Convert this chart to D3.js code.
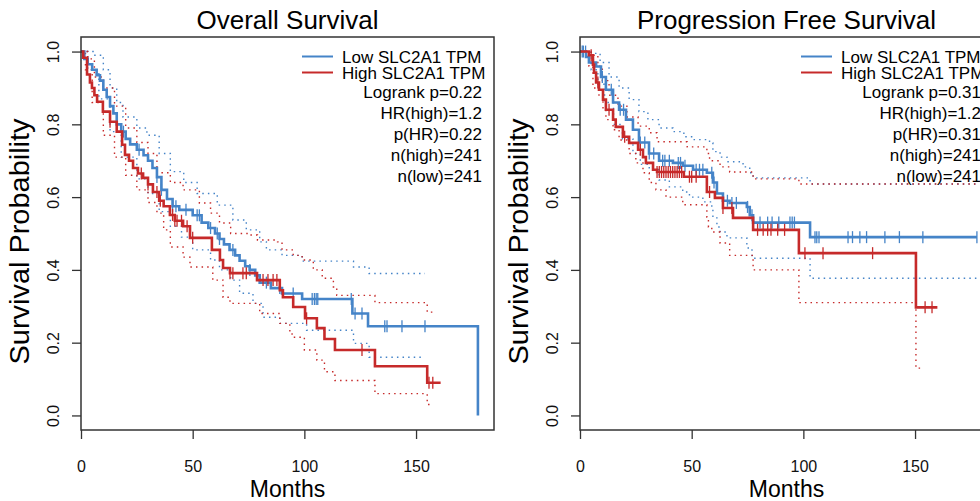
<!DOCTYPE html>
<html>
<head>
<meta charset="utf-8">
<script src="https://cdn.jsdelivr.net/npm/d3@7"></script>
<style>
  body { margin: 0; background: #fff; }
  svg { display: block; font-family: "Liberation Sans", Arial, Helvetica, sans-serif; }
</style>
</head>
<body>
<div id="chart"></div>
<script>
// axis ticks
const monthTicks = [0, 50, 100, 150];
const probTicks = [0, 0.2, 0.4, 0.6, 0.8, 1.0];

// ---- Overall survival: [month, survival after step]
const osLow = [[0,1],[1.5,0.98],[3,0.965],[5,0.95],[7,0.935],[8.5,0.92],[10,0.895],[11.5,0.875],[13,0.85],[14.5,0.83],[16,0.80],[18,0.78],[20,0.76],[22,0.745],[25,0.73],[28,0.715],[30,0.70],[32,0.68],[34,0.655],[36,0.62],[38.5,0.595],[41,0.575],[44,0.565],[50,0.55],[54,0.53],[57,0.515],[60,0.50],[62,0.485],[64,0.47],[66.5,0.455],[69,0.44],[71,0.425],[73.5,0.41],[75.5,0.40],[78,0.385],[80,0.365],[85,0.35],[90,0.335],[99,0.32],[121.5,0.28],[128.5,0.245],[177.7,0]];
const osHigh = [[0,1],[1,0.983],[2.7,0.937],[4,0.915],[4.9,0.90],[6,0.88],[7.2,0.862],[9.8,0.835],[13,0.807],[16,0.78],[18.4,0.744],[19.7,0.716],[21.5,0.70],[23.3,0.68],[25.5,0.665],[27.8,0.653],[30,0.635],[32.2,0.614],[35,0.59],[37,0.575],[39.8,0.551],[42,0.535],[45.7,0.52],[48.8,0.488],[58.6,0.455],[62.2,0.427],[63.6,0.405],[66.7,0.391],[78.8,0.372],[89,0.344],[90.4,0.325],[95,0.298],[100.3,0.267],[105.6,0.24],[109,0.21],[113.7,0.18],[131.6,0.135],[155,0.09],[161,0.09]];
const osLowUpper = [[0,1],[5.4,0.99],[10,0.95],[13,0.90],[16,0.86],[18.8,0.82],[25,0.79],[29.5,0.77],[35,0.72],[40,0.67],[46,0.64],[52,0.61],[61,0.578],[68,0.537],[74,0.51],[80,0.477],[83,0.455],[90,0.44],[99,0.424],[122,0.408],[129,0.39],[154,0.39]];
const osLowLower = [[0,1],[3,0.95],[8,0.87],[13,0.78],[18,0.71],[25,0.65],[30,0.61],[35,0.56],[40,0.52],[45,0.49],[50,0.455],[58,0.427],[62,0.40],[67,0.372],[71,0.336],[77,0.308],[81.5,0.27],[89,0.253],[101,0.234],[122,0.198],[129,0.16],[153,0.157]];
const osHighUpper = [[0,1],[3,0.98],[6,0.93],[10,0.90],[15,0.85],[20,0.79],[25,0.75],[30,0.72],[34,0.667],[40,0.64],[45.7,0.62],[53,0.584],[58,0.556],[62,0.529],[67,0.5],[75.6,0.496],[79,0.482],[88,0.477],[90,0.455],[95,0.44],[99,0.427],[104,0.40],[108,0.377],[113,0.353],[114.5,0.33],[131.6,0.31],[155,0.284],[159,0.284]];
const osHighLower = [[0,1],[2,0.95],[5,0.86],[10,0.77],[15,0.71],[20,0.66],[25,0.62],[30,0.585],[34,0.556],[37,0.51],[40,0.463],[45.7,0.435],[48.8,0.408],[59,0.372],[63.6,0.325],[66.7,0.308],[80,0.28],[89,0.253],[93.5,0.226],[94.5,0.215],[100,0.18],[105.6,0.152],[109,0.12],[113.7,0.096],[131.6,0.06],[155,0.03],[157.5,0.03]];
const osLowCensor = [19,26,34,36,41,42.5,47,52,53,58,61,62,68,75.6,83,89,95,103.5,104.5,105.3,106,121,122.7,125.8,136,137,143.7,154];
const osHighCensor = [13,27,30,34,35.5,41,42,43,45,47.5,50,66.7,68,72.5,74,81.5,83.7,86,87.7,101,125.8,155.8,157.5];
const osStats = ["Logrank p=0.22", "HR(high)=1.2", "p(HR)=0.22", "n(high)=241", "n(low)=241"];

// ---- Progression free survival
const pfsLow = [[0,1],[2.7,0.985],[4,0.97],[7.2,0.959],[9.4,0.93],[11.6,0.895],[14.8,0.86],[17.5,0.84],[20.6,0.813],[23.7,0.785],[26.4,0.75],[30.9,0.72],[35.4,0.70],[41.6,0.694],[46,0.686],[50.6,0.675],[56.8,0.667],[59.5,0.64],[61.3,0.61],[64,0.59],[67,0.584],[74.7,0.573],[76,0.55],[77.5,0.53],[103,0.49],[177.7,0.49]];
const pfsHigh = [[0,1],[4,0.99],[5.8,0.964],[6.3,0.942],[7.2,0.915],[8.5,0.895],[10.3,0.868],[11.6,0.84],[14.8,0.813],[16,0.793],[19.2,0.766],[22,0.749],[26,0.73],[28.2,0.71],[29.5,0.694],[32.7,0.675],[34.5,0.669],[46.5,0.656],[56.8,0.614],[60.4,0.598],[64,0.57],[68.5,0.543],[77.5,0.51],[98,0.446],[150.4,0.297],[160,0.297]];
const pfsLowUpper = [[0,1],[5,0.995],[9,0.97],[13,0.93],[17.5,0.90],[22,0.868],[26.4,0.835],[30.4,0.813],[35.4,0.79],[41.6,0.78],[46.5,0.766],[50.6,0.758],[58,0.749],[59.5,0.725],[62.7,0.71],[65.8,0.697],[73,0.683],[76,0.667],[77.5,0.653],[103,0.636],[177.7,0.636]];
const pfsLowLower = [[0,1],[5,0.95],[8,0.91],[11,0.86],[15,0.80],[19,0.76],[23.7,0.72],[27,0.69],[31,0.675],[35.4,0.647],[40,0.628],[46,0.614],[49,0.60],[55,0.587],[59,0.57],[59.5,0.543],[61.3,0.518],[62.7,0.504],[65.8,0.488],[74.7,0.46],[77,0.432],[103,0.377],[177.7,0.377]];
const pfsHighUpper = [[0,1],[5,0.99],[8,0.96],[10,0.92],[13,0.88],[17,0.85],[21,0.82],[26,0.795],[31,0.777],[34.5,0.752],[48,0.738],[56.8,0.72],[58,0.70],[62.7,0.683],[67,0.669],[77.5,0.65],[98,0.636],[177.7,0.636]];
const pfsHighLower = [[0,1],[4,0.96],[5.8,0.9],[8.5,0.876],[10.3,0.84],[11.6,0.813],[14.8,0.785],[17.5,0.757],[22,0.72],[25,0.694],[28.2,0.667],[31,0.64],[34,0.62],[38.5,0.60],[46,0.579],[56.8,0.545],[57.5,0.518],[59,0.504],[62.7,0.474],[67,0.44],[77.5,0.40],[98,0.31],[150.4,0.13],[154,0.13]];
const pfsLowCensor = [1,1.5,2.5,10,14,18,19.5,27,29,31,33,37,38,40,44,45,47,52,53.5,55,59,60,66,68,70,75,77,80.6,84,86,89,94,95,96,105.2,106,107,120,122,125.3,128.3,136.5,143,153.5,177.7];
const pfsHighCensor = [5,6,8,13,20,27,34.5,35.5,36.5,37.5,38.5,39.5,40.5,41.5,42.5,43.5,44.5,45.5,49,50,52,58,64,68,79.5,82,84,85.5,88.5,91.6,100.7,108.8,131,154.5,157.6];
const pfsStats = ["Logrank p=0.31", "HR(high)=1.2", "p(HR)=0.31", "n(high)=241", "n(low)=241"];

const legendLabels = ["Low SLC2A1 TPM", "High SLC2A1 TPM"];

const blue = "#4584c8";
const red = "#c62a2a";

var width = 980, height = 501;
var box = {top: 37, bottom: 430, w: 413};

const svg = d3.select("#chart").append("svg")
  .attr("width", width)
  .attr("height", height);

function survAt(steps, t) {
  let i = d3.bisector(d => d[0]).right(steps, t) - 1;
  return steps[Math.max(i, 0)][1];
}

function drawPanel(left, title, low, high, lowUp, lowLo, highUp, highLo, lowCens, highCens, stats) {
  const g = svg.append("g").attr("transform", `translate(${left},0)`);

  const x = d3.scaleLinear().domain([0, 184.9]).range([0, box.w]);
  const y = d3.scaleLinear().domain([-0.04, 1.04]).range([box.bottom, box.top]);

  const step = d3.line()
    .curve(d3.curveStepAfter)
    .x(d => x(d[0]))
    .y(d => y(d[1]));

  // confidence bands (dotted)
  [[lowUp, blue], [lowLo, blue], [highUp, red], [highLo, red]].forEach(function (c) {
    g.append("path")
      .attr("d", step(c[0]))
      .attr("fill", "none")
      .attr("stroke", c[1])
      .attr("stroke-width", 1.4)
      .attr("stroke-dasharray", "1.5,4.1");
  });

  // survival curves
  [[low, blue, lowCens], [high, red, highCens]].forEach(function (c) {
    g.append("path")
      .attr("d", step(c[0]))
      .attr("fill", "none")
      .attr("stroke", c[1])
      .attr("stroke-width", 2.6);
    g.selectAll(null)
      .data(c[2])
      .join("line")
      .attr("x1", d => x(d)).attr("x2", d => x(d))
      .attr("y1", d => y(survAt(c[0], d)) - 6)
      .attr("y2", d => y(survAt(c[0], d)) + 6)
      .attr("stroke", c[1])
      .attr("stroke-width", 1.3);
  });

  // box
  g.append("rect")
    .attr("x", 0).attr("y", box.top)
    .attr("width", box.w).attr("height", box.bottom - box.top)
    .attr("fill", "none")
    .attr("stroke", "#333")
    .attr("stroke-width", 1.5);

  // axes
  const xAxis = g.append("g")
    .attr("transform", `translate(0,${box.bottom})`)
    .call(d3.axisBottom(x).tickValues(monthTicks).tickSize(9).tickPadding(22).tickFormat(d3.format("d")));
  xAxis.select(".domain").remove();
  xAxis.selectAll("line").attr("stroke", "#333").attr("stroke-width", 1.3);
  xAxis.selectAll("text").attr("font-size", 16).attr("fill", "#111").attr("font-family", "Liberation Sans, Arial, sans-serif");

  const yAxis = g.append("g")
    .call(d3.axisLeft(y).tickValues(probTicks).tickSize(9).tickFormat(d3.format(".1f")));
  yAxis.select(".domain").remove();
  yAxis.selectAll("line").attr("stroke", "#333").attr("stroke-width", 1.3);
  yAxis.selectAll("text")
    .attr("x", null).attr("dy", null)
    .attr("transform", "translate(-22,0) rotate(-90)")
    .attr("text-anchor", "middle")
    .attr("font-size", 16).attr("fill", "#111").attr("font-family", "Liberation Sans, Arial, sans-serif");

  // titles
  g.append("text")
    .attr("x", box.w / 2).attr("y", 29)
    .attr("text-anchor", "middle")
    .attr("font-size", 26)
    .text(title);

  g.append("text")
    .attr("x", box.w / 2).attr("y", 497)
    .attr("text-anchor", "middle")
    .attr("font-size", 23)
    .text("Months");

  g.append("text")
    .attr("transform", `translate(-52,${(box.top + box.bottom) / 2 + 8}) rotate(-90)`)
    .attr("text-anchor", "middle")
    .attr("font-size", 27)
    .attr("textLength", 246)
    .attr("lengthAdjust", "spacingAndGlyphs")
    .text("Survival Probability");

  // legend
  legendLabels.forEach(function (lab, i) {
    const ly = 56.5 + i * 16;
    g.append("line")
      .attr("x1", 221).attr("x2", 252)
      .attr("y1", ly).attr("y2", ly)
      .attr("stroke", i == 0 ? blue : red)
      .attr("stroke-width", 2);
    g.append("text")
      .attr("x", 261).attr("y", ly + 6)
      .attr("font-size", 17)
      .text(lab);
  });
  stats.forEach(function (s, i) {
    g.append("text")
      .attr("x", 401).attr("y", 98 + i * 21)
      .attr("text-anchor", "end")
      .attr("font-size", 17)
      .text(s);
  });
}

drawPanel(81, "Overall Survival", osLow, osHigh, osLowUpper, osLowLower, osHighUpper, osHighLower, osLowCensor, osHighCensor, osStats);
drawPanel(580, "Progression Free Survival", pfsLow, pfsHigh, pfsLowUpper, pfsLowLower, pfsHighUpper, pfsHighLower, pfsLowCensor, pfsHighCensor, pfsStats);
</script>
</body>
</html>
